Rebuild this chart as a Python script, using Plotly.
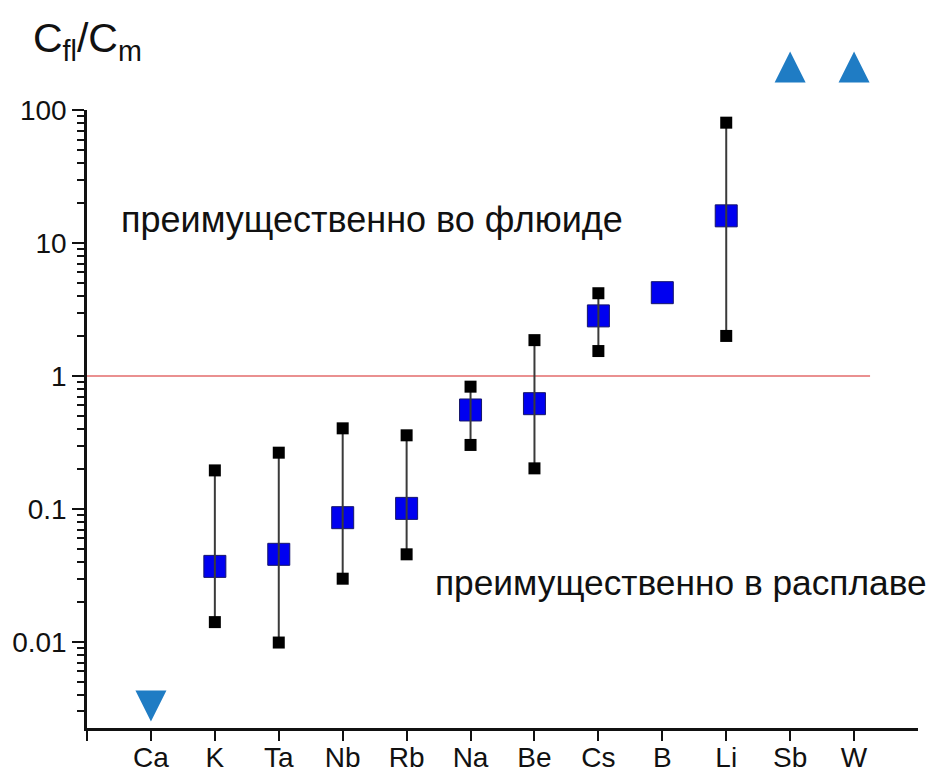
import plotly.graph_objects as go

# ---- data ----
elements = ['Ca', 'K', 'Ta', 'Nb', 'Rb', 'Na', 'Be', 'Cs', 'B', 'Li', 'Sb', 'W']
range_elements = ['K', 'Ta', 'Nb', 'Rb', 'Na', 'Be', 'Cs', 'B', 'Li']
mean_vals = [0.037, 0.0456, 0.086, 0.101, 0.555, 0.619, 2.83, 4.23, 16.0]
min_vals = [0.0141, 0.0099, 0.0299, 0.0456, 0.303, 0.202, 1.54, None, 2.0]
max_vals = [0.195, 0.265, 0.404, 0.358, 0.831, 1.86, 4.19, None, 80.3]
low_elements = ['Ca']
low_vals = [0.00252]
high_elements = ['Sb', 'W']
high_vals = [275, 275]
ref_level = 1.0
ref_span = [-1, 11.25]
y_tick_vals = [0.01, 0.1, 1, 10, 100]
y_tick_text = ['0.01', '0.1', '1', '10', '100']
text_fluid = 'преимущественно во флюиде'
text_melt = 'преимущественно в расплаве'

idx = {e: i for i, e in enumerate(elements)}
xr = [idx[e] for e in range_elements]

FONT = 'Liberation Sans, Arial, sans-serif'
INK = '#111111'

# geometry (figure pixels)
W, H = 943, 773
L, R, T, B = 79, 33, 20, 53
plot_h = H - T - B                 # full area (used by the hidden axis)
main_top = 102                     # pixel of the 100 tick
y_lo, y_hi = -2.647, 2.0
px_per_dec = (H - B - main_top) / (y_hi - y_lo)
main_frac = (H - B - main_top) / plot_h
y2_hi = y_lo + plot_h / px_per_dec

fig = go.Figure()

# reference line at 1
fig.add_trace(go.Scatter(x=ref_span, y=[ref_level, ref_level], mode='lines',
                         line=dict(color='#e36b6b', width=1.5), hoverinfo='skip'))

# mean squares
fig.add_trace(go.Scatter(x=xr, y=mean_vals, mode='markers',
                         marker=dict(symbol='square', size=22, color='#0000f0',
                                     line=dict(color='#15156a', width=1))))

# whiskers
wx, wy = [], []
for x, lo, hi in zip(xr, min_vals, max_vals):
    if lo is None or hi is None:
        continue
    wx += [x, x, None]
    wy += [lo, hi, None]
fig.add_trace(go.Scatter(x=wx, y=wy, mode='lines',
                         line=dict(color='#3a3a3a', width=2), hoverinfo='skip'))

# min / max squares
ex, ey = [], []
for x, lo, hi in zip(xr, min_vals, max_vals):
    for v in (lo, hi):
        if v is not None:
            ex.append(x)
            ey.append(v)
fig.add_trace(go.Scatter(x=ex, y=ey, mode='markers',
                         marker=dict(symbol='square', size=12, color='black')))

# limits (triangles)
fig.add_trace(go.Scatter(x=[idx[e] for e in low_elements], y=low_vals, mode='markers',
                         marker=dict(symbol='arrow-down', size=31, color='#1f7cc4',
                                     line=dict(width=0)),
                         cliponaxis=False))
fig.add_trace(go.Scatter(x=[idx[e] for e in high_elements], y=high_vals, mode='markers',
                         yaxis='y2',
                         marker=dict(symbol='arrow-up', size=31, color='#1f7cc4',
                                     line=dict(width=0)),
                         cliponaxis=False))

fig.update_layout(
    width=W, height=H,
    margin=dict(l=L, r=R, t=T, b=B),
    plot_bgcolor='rgba(0,0,0,0)', paper_bgcolor='white',
    showlegend=False,
    font=dict(family=FONT, size=28, color=INK),
    xaxis=dict(range=[-1, 12], tickvals=list(range(-1, len(elements))),
               ticktext=[''] + elements, showline=True, linecolor=INK,
               linewidth=2.5, ticks='outside', ticklen=10, tickwidth=2,
               tickcolor=INK, showgrid=False, zeroline=False, automargin=False,
               anchor='y', tickfont=dict(size=28), ticklabelstandoff=-7),
    yaxis=dict(type='log', range=[y_lo, y_hi], domain=[0, main_frac],
               tickvals=y_tick_vals, ticktext=y_tick_text, showline=True,
               linecolor=INK, linewidth=2.5, ticks='outside', ticklen=12,
               tickwidth=2, tickcolor=INK, showgrid=False, zeroline=False,
               automargin=False, tickfont=dict(size=28),
               minor=dict(ticks='outside', ticklen=7, tickwidth=2, tickcolor=INK,
                          tickvals=[m * 10 ** d for d in range(-3, 2) for m in range(2, 10)],
                          showgrid=False)),
    yaxis2=dict(type='log', range=[y_lo, y2_hi], domain=[0, 1], anchor='x',
                visible=False, automargin=False),
    annotations=[
        dict(text='C<sub>fl</sub>/C<sub>m</sub>', xref='paper', yref='paper',
             x=-56 / (W - L - R), y=1 - (33 - T) / plot_h,
             xanchor='left', yanchor='middle',
             showarrow=False, font=dict(size=41, family=FONT, color=INK)),
        dict(text=text_fluid, xref='x', yref='y', x=-0.5, y=1.18,
             xanchor='left', yanchor='middle', showarrow=False,
             font=dict(size=36, family=FONT, color=INK)),
        dict(text=text_melt, xref='x', yref='y', x=4.42, y=-1.556,
             xanchor='left', yanchor='middle', showarrow=False,
             font=dict(size=35.3, family=FONT, color=INK)),
    ],
)

fig.write_html('out.html')
